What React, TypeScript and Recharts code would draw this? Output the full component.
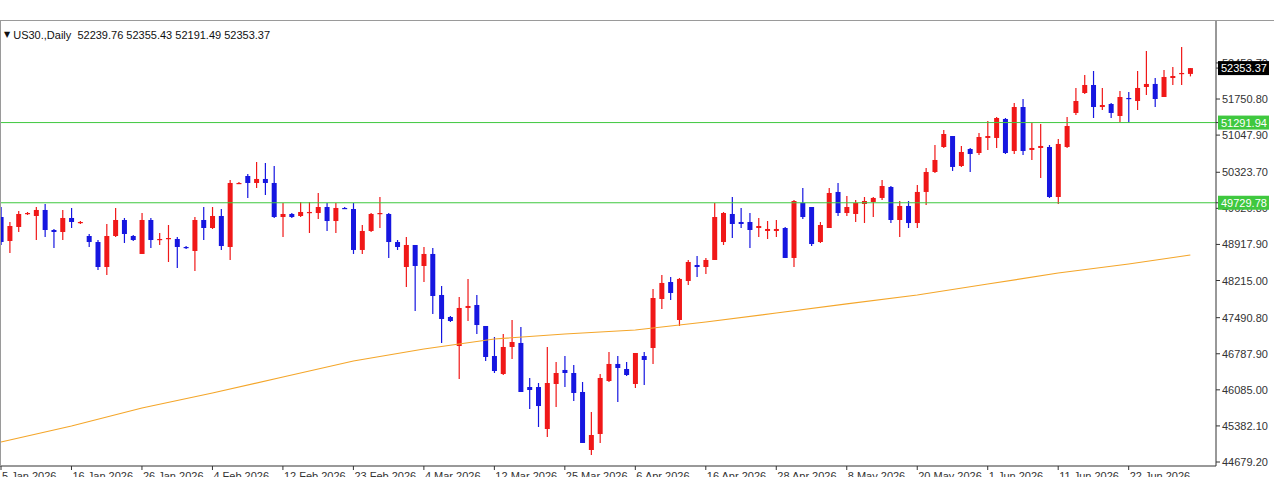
import { ComposedChart, Bar, Line, XAxis, YAxis, ReferenceLine } from 'recharts';

// daily OHLC (index 0 = first visible bar)
const OPEN = [
  49452, 48985, 49258, 49511, 49472, 49589, 49199, 49160, 49433, 49335,
  49082, 48965, 48478, 49082, 49394, 49082, 48732, 49394, 49004, 49024,
  49024, 48868, 48790, 49394, 49238, 49472, 48868, 50095, 50251, 50115,
  50193, 50115, 49452, 49511, 49472, 49530, 49530, 49647, 49374, 49628,
  49608, 48810, 49180, 49511, 49511, 48965, 48478, 48907, 48498, 48732,
  47933, 47504, 46939, 47680, 47738, 47329, 46744, 46394, 46920, 46998,
  46140, 46140, 45322, 46199, 46472, 46413, 46043, 44913, 45225, 46257,
  46589, 46491, 46199, 46744, 46900, 47855, 48186, 47446, 48206, 48517,
  48478, 48615, 48965, 49511, 49355, 49355, 49238, 49180, 49180, 49238,
  48654, 49725, 49647, 48965, 49238, 49940, 49530, 49511, 49706, 49745,
  49823, 50037, 49394, 49667, 49335, 49940, 50329, 50816, 51030, 50446,
  50777, 50699, 50992, 50992, 51362, 50738, 51595, 50758, 50797, 50816,
  49842, 50816, 51479, 51868, 52024, 51595, 51654, 51420, 51771, 51712,
  51985, 52044, 51790, 52160, 52238, 52239.76,
];
const HIGH = [
  49647, 49355, 49569, 49550, 49647, 49706, 49219, 49589, 49628, 49374,
  49121, 49004, 49316, 49628, 49433, 49102, 49530, 49433, 49141, 49296,
  49063, 48887, 49452, 49647, 49647, 49608, 50173, 50134, 50290, 50524,
  50504, 50446, 49725, 49530, 49745, 49745, 49920, 49725, 49725, 49647,
  49725, 49296, 49530, 49842, 49530, 49004, 49063, 48907, 48868, 48848,
  48108, 47524, 47894, 48245, 47933, 47329, 47115, 47173, 47446, 47309,
  46316, 46218, 46920, 46628, 46744, 46569, 46238, 45653, 46394, 46822,
  46744, 46628, 46803, 46822, 48050, 48322, 48283, 48264, 48615, 48693,
  48654, 49725, 49550, 49842, 49628, 49530, 49433, 49374, 49394, 49258,
  49784, 50017, 49647, 49355, 50017, 50115, 49862, 49784, 49842, 49842,
  50173, 50056, 49764, 49764, 50076, 50407, 50855, 51147, 51030, 50836,
  50797, 51089, 51323, 51401, 51381, 51673, 51751, 51284, 51264, 50855,
  50972, 51401, 51966, 52219, 52297, 51966, 51673, 51907, 51888, 52297,
  52686, 52160, 52316, 52375, 52764, 52355.43,
];
const LOW = [
  48907, 48751, 49160, 49491, 49004, 49063, 48848, 49004, 49238, 49316,
  48868, 48420, 48322, 49063, 48946, 48985, 48732, 48848, 48907, 48576,
  48459, 48829, 48400, 49004, 49219, 48810, 48615, 50095, 49823, 50017,
  49881, 49433, 49063, 49433, 49452, 49141, 49413, 49180, 49141, 49608,
  48732, 48732, 49160, 49238, 48654, 48810, 48089, 47621, 48186, 47563,
  46998, 47407, 46296, 47426, 47173, 46647, 46413, 46374, 46686, 46043,
  45712, 45361, 45166, 45751, 46140, 45868, 45050, 44816, 45050, 46238,
  45848, 46355, 46121, 46179, 46589, 47660, 47835, 47329, 48128, 48283,
  48342, 48615, 48907, 49043, 49238, 48848, 49063, 49024, 49063, 48654,
  48478, 49413, 48887, 48946, 49238, 49472, 49472, 49355, 49335, 49452,
  49784, 49335, 49063, 49238, 49238, 49686, 50310, 50797, 50349, 50427,
  50329, 50660, 50758, 50797, 50680, 50680, 50660, 50563, 50212, 49823,
  49706, 50797, 51440, 51849, 51381, 51537, 51381, 51303, 51284, 51537,
  51829, 51595, 51790, 52024, 52024, 52191.49,
];
const CLOSE = [
  48965, 49277, 49511, 49530, 49589, 49199, 49160, 49433, 49355, 49355,
  48965, 48478, 49082, 49394, 49121, 49004, 49394, 49004, 49024, 49043,
  48868, 48848, 49394, 49238, 49472, 48887, 50115, 50115, 50115, 50193,
  50115, 49452, 49511, 49452, 49550, 49550, 49647, 49374, 49628, 49608,
  48810, 49180, 49511, 49530, 48965, 48868, 48907, 48498, 48732, 47913,
  47465, 47426, 47680, 47719, 47348, 46725, 46452, 46920, 47017, 46043,
  46082, 45770, 46218, 46413, 46413, 46024, 45050, 45205, 46316, 46589,
  46511, 46374, 46803, 46667, 47874, 48167, 47972, 48245, 48576, 48478,
  48615, 49452, 49530, 49316, 49316, 49199, 49277, 49219, 49219, 48654,
  49764, 49452, 48926, 49296, 49920, 49530, 49647, 49725, 49764, 49823,
  50056, 49394, 49667, 49335, 49940, 50329, 50563, 51069, 50427, 50719,
  50680, 51011, 51030, 51381, 50699, 51595, 50738, 50797, 50836, 49842,
  50875, 51225, 51712, 52024, 51595, 51634, 51479, 51790, 51751, 51966,
  52044, 51751, 52180, 52199, 52258, 52353.37,
];

// slow moving average, read at the labelled bars
const MA_IDX = [0, 8, 16, 24, 32, 40, 48, 56, 64, 72, 80, 88, 96, 104, 112, 120, 128, 135];
const MA_VAL = [
  45069, 45381, 45731, 46024, 46335, 46647, 46881, 47076, 47173,
  47251, 47407, 47582, 47758, 47933, 48147, 48361, 48537, 48712,
];

const TICK_IDX = [0, 8, 16, 24, 32, 40, 48, 56, 64, 72, 80, 88, 96, 104, 112, 120, 128];
const TICK_LABELS = [
  '5 Jan 2026', '16 Jan 2026', '26 Jan 2026', '4 Feb 2026', '12 Feb 2026', '23 Feb 2026',
  '4 Mar 2026', '12 Mar 2026', '25 Mar 2026', '6 Apr 2026', '16 Apr 2026', '28 Apr 2026',
  '8 May 2026', '20 May 2026', '1 Jun 2026', '11 Jun 2026', '22 Jun 2026',
];
const PRICE_TICKS = [
  52453.7, 51750.8, 51047.9, 50323.7, 49620.8, 48917.9,
  48215.0, 47490.8, 46787.9, 46085.0, 45382.1, 44679.2,
];
const LEVELS = [51291.94, 49729.78];
const LAST = 52353.37;

const UP = '#f01818';
const DOWN = '#1616e0';
const GREEN = '#3fc83f';
const FONT = '"Liberation Sans", Arial, sans-serif';

const data = OPEN.map((o, i) => {
  const k = MA_IDX.indexOf(i);
  return {
    i,
    open: o,
    high: HIGH[i],
    low: LOW[i],
    close: CLOSE[i],
    ma: k >= 0 ? MA_VAL[k] : null,
  };
});

function Candle(props: any) {
  const { x, y, width, height, payload } = props;
  if (!payload) return null;
  const { open, close, high, low } = payload;
  const ratio = height / (high - low || 1);
  const yO = y + (high - open) * ratio;
  const yC = y + (high - close) * ratio;
  const cx = x + width / 2;
  const color = close >= open ? UP : DOWN;
  const top = Math.min(yO, yC);
  const h = Math.max(1.2, Math.abs(yO - yC));
  return (
    <g>
      <line x1={cx} x2={cx} y1={y} y2={y + height} stroke={color} strokeWidth={1.2} />
      <rect x={cx - 2.5} y={top} width={5} height={h} fill={color} />
    </g>
  );
}

function DateTick(props: any) {
  const { x, payload } = props;
  const k = TICK_IDX.indexOf(payload.value);
  return (
    <text x={x + 1} y={480} textAnchor="start" fontSize={11} fontFamily={FONT} fill="#333">
      {k >= 0 ? TICK_LABELS[k] : ''}
    </text>
  );
}

// price scale labels; level / last-price boxes come last so they sit on top
function PriceTick(props: any) {
  const { x, y, payload } = props;
  const v = payload.value;
  const isLevel = LEVELS.includes(v);
  const isLast = v === LAST;
  if (isLevel || isLast) {
    return (
      <g>
        <rect x={x - 4} y={y - 7} width={51} height={14} fill={isLast ? '#000' : GREEN} />
        <text x={x - 1} y={y + 4} fontSize={11} fontFamily={FONT} fill="#fff">
          {v.toFixed(2)}
        </text>
      </g>
    );
  }
  return (
    <text x={x} y={y + 4} fontSize={11} fontFamily={FONT} fill="#333">
      {v.toFixed(2)}
    </text>
  );
}

export default function App() {
  return (
    <div style={{ position: 'absolute', left: 0, top: 0, width: 1274, height: 500, background: '#fff' }}>
      <div style={{ position: 'absolute', left: 0, top: 0, width: 1274, height: 477, overflow: 'hidden' }}>
        <ComposedChart
          width={1274}
          height={500}
          data={data}
          margin={{ top: 21, right: 0, left: 0, bottom: 0 }}
        >
          <XAxis
            dataKey="i"
            type="number"
            domain={[-1 / 8.81, 1215 / 8.81]}
            allowDataOverflow
            ticks={TICK_IDX}
            tick={<DateTick />}
            tickSize={4}
            height={34}
            axisLine={{ stroke: '#333' }}
            tickLine={{ stroke: '#333' }}
            interval={0}
          />
          <YAxis
            orientation="right"
            width={58}
            domain={[44601.3, 53270.7]}
            allowDataOverflow
            ticks={[...PRICE_TICKS, ...LEVELS, LAST]}
            tick={<PriceTick />}
            tickSize={4}
            tickMargin={2}
            axisLine={{ stroke: '#333' }}
            tickLine={{ stroke: '#333' }}
            interval={0}
          />
          <Line
            dataKey="ma"
            type="linear"
            stroke="#f4a62a"
            strokeWidth={1.2}
            dot={false}
            connectNulls
            isAnimationActive={false}
          />
          <Bar
            dataKey={(d: any) => [d.low, d.high]}
            barSize={5}
            shape={<Candle />}
            isAnimationActive={false}
          />
          {LEVELS.map((lv) => (
            <ReferenceLine key={lv} y={lv} stroke={GREEN} strokeWidth={1} />
          ))}
        </ComposedChart>
      </div>
      <div style={{ position: 'absolute', left: 0, top: 20, width: 1274, height: 1, background: '#9a9a9a' }} />
      <div style={{ position: 'absolute', left: 0, top: 20, width: 1, height: 446, background: '#9a9a9a' }} />
      <div
        style={{
          position: 'absolute',
          left: 4,
          top: 29,
          fontFamily: FONT,
          fontSize: 11,
          lineHeight: '12px',
          color: '#111',
          whiteSpace: 'pre',
        }}
      >
        <span style={{ fontSize: 8, verticalAlign: 'top', fontFamily: '"DejaVu Sans", sans-serif' }}>▼</span>
        {' US30.,Daily  52239.76 52355.43 52191.49 52353.37'}
      </div>
    </div>
  );
}
